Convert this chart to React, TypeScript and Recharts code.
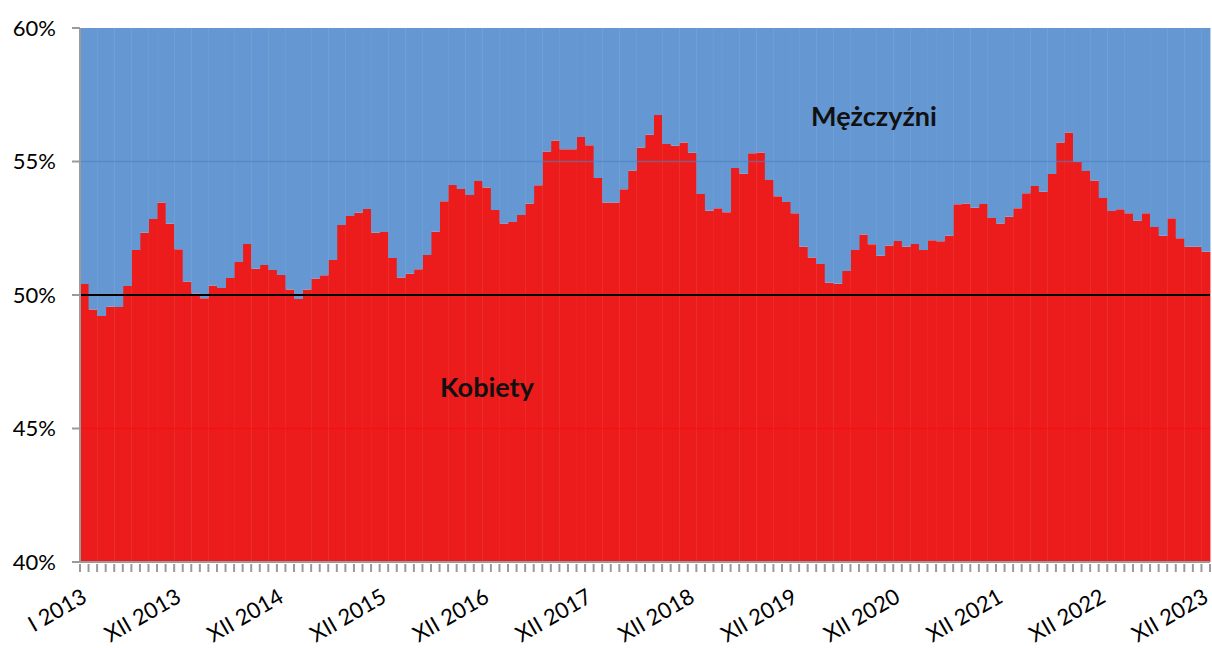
import React from 'react';
import { BarChart, Bar, XAxis, YAxis, ReferenceLine } from 'recharts';

const years = [2013, 2014, 2015, 2016, 2017, 2018, 2019, 2020, 2021, 2022, 2023];
const months = ['I', 'II', 'III', 'IV', 'V', 'VI', 'VII', 'VIII', 'IX', 'X', 'XI', 'XII'];

// Share of women (%) , monthly I 2013 – XII 2023
const kobiety = [
  50.41, 49.46, 49.21, 49.56, 49.55, 50.34, 51.69, 52.33, 52.85, 53.46, 52.67, 51.71,
  50.50, 50.06, 49.88, 50.36, 50.26, 50.64, 51.24, 51.91, 50.98, 51.12, 50.94, 50.75,
  50.21, 49.85, 50.21, 50.62, 50.74, 51.31, 52.62, 52.96, 53.08, 53.22, 52.33, 52.36,
  51.39, 50.66, 50.80, 50.96, 51.50, 52.37, 53.51, 54.12, 53.97, 53.75, 54.27, 54.03,
  53.18, 52.68, 52.73, 53.00, 53.43, 54.11, 55.37, 55.79, 55.46, 55.46, 55.92, 55.61,
  54.38, 53.46, 53.46, 53.96, 54.66, 55.52, 56.00, 56.74, 55.66, 55.59, 55.71, 55.33,
  53.78, 53.16, 53.25, 53.10, 54.76, 54.54, 55.31, 55.34, 54.31, 53.70, 53.48, 53.06,
  51.81, 51.40, 51.16, 50.46, 50.42, 50.90, 51.69, 52.27, 51.90, 51.47, 51.85, 52.02,
  51.81, 51.91, 51.69, 52.05, 52.01, 52.22, 53.40, 53.43, 53.27, 53.41, 52.88, 52.68,
  52.93, 53.25, 53.81, 54.08, 53.87, 54.53, 55.71, 56.09, 54.99, 54.64, 54.29, 53.63,
  53.15, 53.21, 53.06, 52.78, 53.06, 52.55, 52.22, 52.87, 52.13, 51.81, 51.81, 51.62,
];

const yTicks = [40, 45, 50, 55, 60];
const seriesNames = { kobiety: 'Kobiety', mezczyzni: 'Mężczyźni' };

const labels: string[] = [];
years.forEach((yr) => months.forEach((m) => labels.push(`${m} ${yr}`)));

const data = kobiety.map((k, i) => ({
  label: labels[i],
  kobiety: k,
  mezczyzni: 100 - k,
}));

const W = 1212;
const H = 648;
const LEFT = 80;
const RIGHT = 2;
const TOP = 28;
const BOTTOM = 86;
const PLOT_W = W - LEFT - RIGHT;
const BAND = PLOT_W / data.length;
const FONT = 'Lato, "Open Sans", sans-serif';

const XTick = (props: any) => {
  const { x, y, index } = props;
  const show = index === 0 || index % 12 === 11;
  const bx = x - BAND / 2;
  const ex = x + 4;
  const ey = y + 39;
  return (
    <g>
      <line x1={bx} y1={y + 2} x2={bx} y2={y + 10} stroke="#9a9a9a" strokeWidth={2} />
      {index === data.length - 1 && (
        <line x1={x + BAND / 2} y1={y + 2} x2={x + BAND / 2} y2={y + 10} stroke="#9a9a9a" strokeWidth={2} />
      )}
      {show && (
        <text
          x={ex}
          y={ey}
          textAnchor="end"
          fontSize={22}
          fontFamily={FONT}
          fill="#000"
          transform={`rotate(-30, ${ex}, ${ey})`}
        >
          {labels[index]}
        </text>
      )}
    </g>
  );
};

const labelStyle: React.CSSProperties = {
  position: 'absolute',
  fontFamily: FONT,
  fontWeight: 'bold',
  fontSize: 27,
  color: '#111',
  whiteSpace: 'nowrap',
  lineHeight: '32px',
  transform: 'translateX(-50%)',
};

export default function App() {
  return (
    <div style={{ position: 'absolute', left: 0, top: 0, width: W, height: H, background: '#fff' }}>
      <BarChart
        width={W}
        height={H}
        data={data}
        margin={{ top: TOP, right: RIGHT, bottom: 0, left: 0 }}
        barCategoryGap={0}
        barGap={0}
      >
        <XAxis
          dataKey="label"
          interval={0}
          height={BOTTOM}
          tickSize={0}
          tickMargin={0}
          tickLine={false}
          axisLine={{ stroke: '#9a9a9a', strokeWidth: 2 }}
          tick={<XTick />}
        />
        <YAxis
          width={LEFT}
          domain={[40, 60]}
          ticks={yTicks}
          allowDataOverflow
          tickFormatter={(v: number) => `${v}%`}
          tickSize={8}
          tickMargin={16}
          tickLine={{ stroke: '#9a9a9a', strokeWidth: 2 }}
          axisLine={{ stroke: '#9a9a9a', strokeWidth: 2 }}
          tick={{ fontSize: 22, fontFamily: FONT, fill: '#000' }}
        />
        <Bar dataKey="kobiety" name={seriesNames.kobiety} stackId="a" fill="#ED1C1C" isAnimationActive={false} />
        <Bar dataKey="mezczyzni" name={seriesNames.mezczyzni} stackId="a" fill="#6598D3" isAnimationActive={false} />
        <ReferenceLine y={55} stroke="#4d7fc0" strokeOpacity={0.6} strokeWidth={1.5} />
        <ReferenceLine y={45} stroke="#ff0808" strokeOpacity={0.6} strokeWidth={1.5} />
        <ReferenceLine y={50} stroke="#000" strokeWidth={2} />
      </BarChart>
      <div style={{ ...labelStyle, left: 874, top: 100 }}>{seriesNames.mezczyzni}</div>
      <div style={{ ...labelStyle, left: 487, top: 371 }}>{seriesNames.kobiety}</div>
    </div>
  );
}
